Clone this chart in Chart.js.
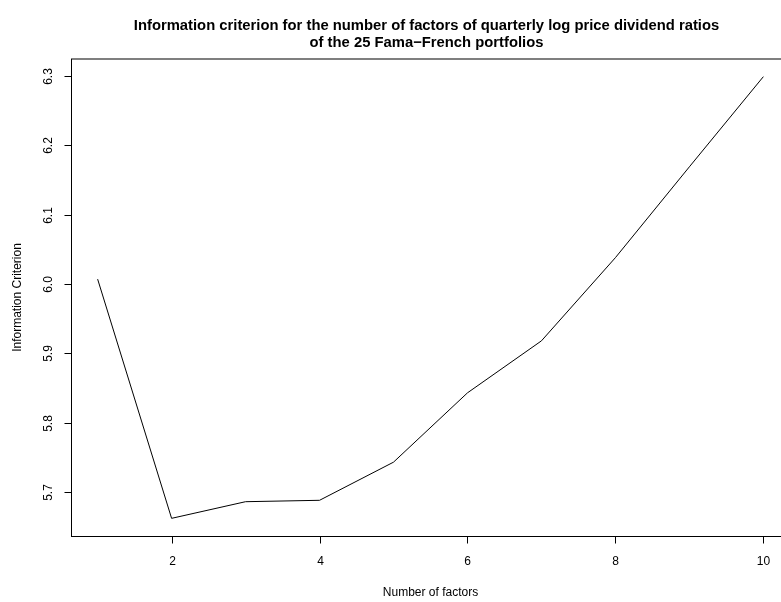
<!DOCTYPE html>
<html>
<head>
<meta charset="utf-8">
<script src="https://cdn.jsdelivr.net/npm/chart.js@4/dist/chart.umd.min.js"></script>
<style>
  html, body { margin: 0; padding: 0; background: #ffffff; overflow: hidden; }
  #wrap { width: 781px; height: 602px; overflow: hidden; position: relative; }
  canvas { display: block; }
</style>
</head>
<body>
<div id="wrap"><canvas id="chart" width="790" height="602"></canvas></div>
<script>
// Information criterion by number of factors
const factors = [1, 2, 3, 4, 5, 6, 7, 8, 9, 10];
const icValues = [6.007, 5.662, 5.686, 5.688, 5.743, 5.843, 5.918, 6.038, 6.169, 6.299];

// Axis tick positions and labels
const xTicks = [2, 4, 6, 8, 10];
const xTickLabels = ['2', '4', '6', '8', '10'];
const yTicks = [5.7, 5.8, 5.9, 6.0, 6.1, 6.2, 6.3];
const yTickLabels = ['5.7', '5.8', '5.9', '6.0', '6.1', '6.2', '6.3'];

const titleLines = [
  'Information criterion for the number of factors of quarterly log price dividend ratios',
  'of the 25 Fama\u2212French portfolios'
];
const xTitle = 'Number of factors';
const yTitle = 'Information Criterion';

// Axis ranges padded by 4% on each side
function padRange(vals) {
  const lo = Math.min(...vals), hi = Math.max(...vals);
  const d = (hi - lo) * 0.04;
  return [lo - d, hi + d];
}
const [xMin, xMax] = padRange(factors);
const [yMin, yMax] = padRange(icValues);

const FONT = '"Liberation Sans", Arial, Helvetica, sans-serif';

// Draws the frame, ticks, tick labels, axis titles and the main title
const baseAxes = {
  id: 'baseAxes',
  afterDraw(chart) {
    const ctx = chart.ctx;
    const xs = chart.scales.x, ys = chart.scales.y;
    const area = chart.chartArea;
    const tick = 7;
    ctx.save();
    ctx.strokeStyle = '#000000';
    ctx.fillStyle = '#000000';
    ctx.lineWidth = 1;

    // frame
    ctx.strokeRect(Math.round(area.left) + 0.5, Math.round(area.top), area.right - area.left, Math.round(area.bottom) - Math.round(area.top) + 0.5);

    const bottom = Math.round(area.bottom) + 0.5;
    const left = Math.round(area.left) + 0.5;

    // x ticks and labels
    ctx.font = '12px ' + FONT;
    ctx.textAlign = 'center';
    ctx.textBaseline = 'middle';
    xTicks.forEach((v, i) => {
      const px = Math.round(xs.getPixelForValue(v)) + 0.5;
      ctx.beginPath();
      ctx.moveTo(px, bottom);
      ctx.lineTo(px, bottom + tick);
      ctx.stroke();
      ctx.fillText(xTickLabels[i], px, bottom + 25);
    });

    // y ticks and labels (rotated)
    yTicks.forEach((v, i) => {
      const py = Math.round(ys.getPixelForValue(v)) + 0.5;
      ctx.beginPath();
      ctx.moveTo(left, py);
      ctx.lineTo(left - tick, py);
      ctx.stroke();
      ctx.save();
      ctx.translate(left - 23, py);
      ctx.rotate(-Math.PI / 2);
      ctx.fillText(yTickLabels[i], 0, 0);
      ctx.restore();
    });

    // axis titles
    const cx = (area.left + area.right) / 2;
    const cy = (area.top + area.bottom) / 2;
    ctx.fillText(xTitle, cx, bottom + 56);
    ctx.save();
    ctx.translate(18, cy);
    ctx.rotate(-Math.PI / 2);
    ctx.fillText(yTitle, 0, 0);
    ctx.restore();

    // main title
    ctx.font = 'bold 14.8px ' + FONT;
    ctx.fillText(titleLines[0], cx - 4, 26);
    ctx.fillText(titleLines[1], cx - 4, 43);
    ctx.restore();
  }
};

new Chart(document.getElementById('chart'), {
  type: 'line',
  data: {
    datasets: [{
      data: factors.map((f, i) => ({ x: f, y: icValues[i] })),
      borderColor: '#000000',
      borderWidth: 1,
      pointRadius: 0,
      tension: 0,
      fill: false
    }]
  },
  options: {
    responsive: false,
    animation: false,
    devicePixelRatio: 1,
    layout: { padding: { left: 71, top: 59, right: 0, bottom: 66 } },
    plugins: { legend: { display: false }, tooltip: { enabled: false }, title: { display: false } },
    scales: {
      x: { type: 'linear', min: xMin, max: xMax, display: false },
      y: { type: 'linear', min: yMin, max: yMax, display: false }
    }
  },
  plugins: [baseAxes]
});
</script>
</body>
</html>
